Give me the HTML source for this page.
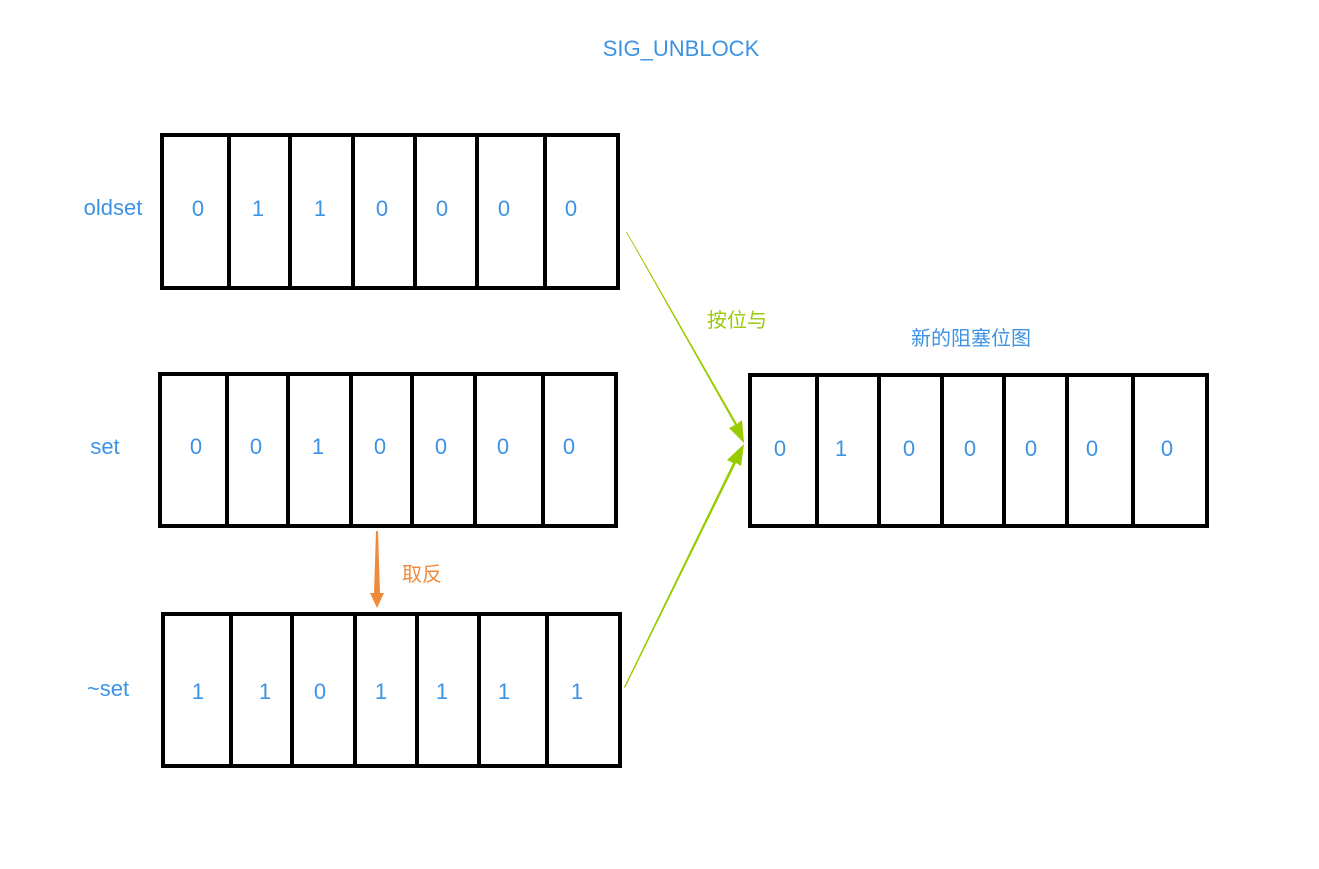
<!DOCTYPE html>
<html><head><meta charset="utf-8"><style>
body{margin:0;background:#fff;}
svg text{font-family:"Liberation Sans","Noto Sans CJK SC",sans-serif;}
</style></head><body>
<svg width="1319" height="864" xmlns="http://www.w3.org/2000/svg">
<g fill="none" stroke="#000" stroke-width="4">
<rect x="162" y="135" width="456" height="153"/>
<path d="M229 135V288M290 135V288M353 135V288M415 135V288M477 135V288M545 135V288"/>
<rect x="160" y="374" width="456" height="152"/>
<path d="M227 374V526M288 374V526M351 374V526M412 374V526M475 374V526M543 374V526"/>
<rect x="163" y="614" width="457" height="152"/>
<path d="M231 614V766M292 614V766M355 614V766M417 614V766M479 614V766M547 614V766"/>
<rect x="750" y="375" width="457" height="151"/>
<path d="M817 375V526M879 375V526M942 375V526M1004 375V526M1067 375V526M1133 375V526"/>
</g>
<g fill="#3d93e3" font-size="22" text-anchor="middle">
<text x="681" y="56">SIG_UNBLOCK</text>
<text x="113" y="215">oldset</text>
<text x="105" y="454">set</text>
<text x="108" y="696">~set</text>
<text x="971" y="345" font-size="20">新的阻塞位图</text>
<text x="198" y="216">0</text><text x="258" y="216">1</text><text x="320" y="216">1</text><text x="382" y="216">0</text><text x="442" y="216">0</text><text x="504" y="216">0</text><text x="571" y="216">0</text>
<text x="196" y="454">0</text><text x="256" y="454">0</text><text x="318" y="454">1</text><text x="380" y="454">0</text><text x="441" y="454">0</text><text x="503" y="454">0</text><text x="569" y="454">0</text>
<text x="198" y="699">1</text><text x="265" y="699">1</text><text x="320" y="699">0</text><text x="381" y="699">1</text><text x="442" y="699">1</text><text x="504" y="699">1</text><text x="577" y="699">1</text>
<text x="780" y="456">0</text><text x="841" y="456">1</text><text x="909" y="456">0</text><text x="970" y="456">0</text><text x="1031" y="456">0</text><text x="1092" y="456">0</text><text x="1167" y="456">0</text>
</g>
<text x="737" y="327" font-size="20" fill="#9acb0f" text-anchor="middle" font-family="Liberation Sans,Noto Sans CJK SC,sans-serif">按位与</text>
<text x="422" y="581" font-size="20" fill="#f08a3c" text-anchor="middle" font-family="Liberation Sans,Noto Sans CJK SC,sans-serif">取反</text>
<g fill="#99cc00">
<polygon points="626,232 735,425 729,428 744,443 742,420 737,424 627,232"/>
<polygon points="624,687 733,463 727,460 744,444 741,466 736,463 625,688"/>
</g>
<polygon points="376,531 378,531 380,593 384,593 377,608 370,593 374,593" fill="#f08a3c"/>
</svg>
</body></html>
